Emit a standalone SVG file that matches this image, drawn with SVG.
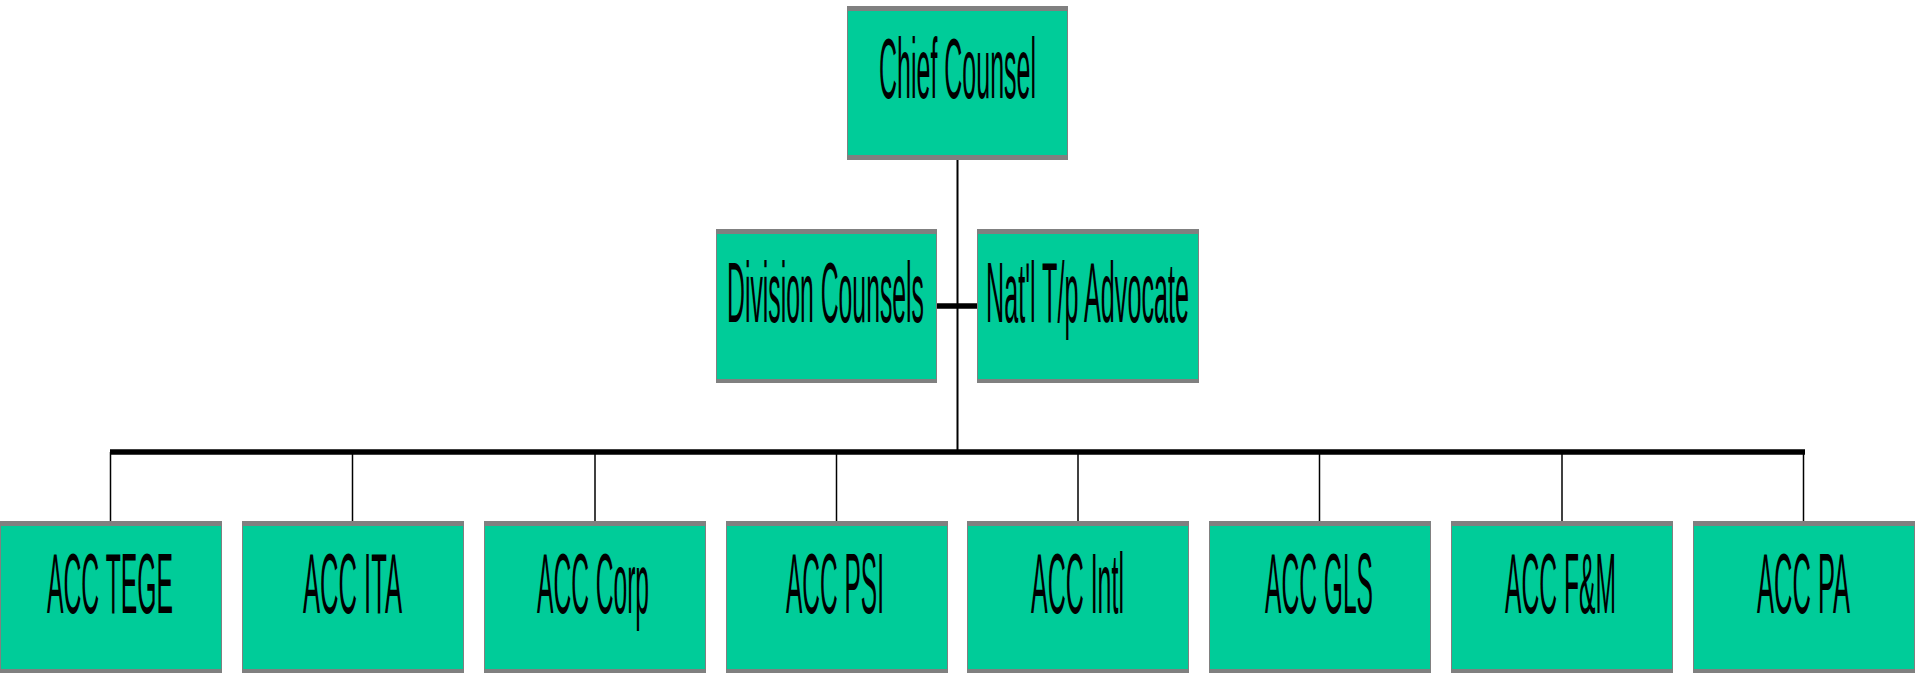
<svg xmlns="http://www.w3.org/2000/svg" width="1915" height="673" viewBox="0 0 1915 673">
<style>
.frame{fill:#808080}
.body{fill:#00CC99}
.lbl{font-family:"Liberation Sans",Arial,sans-serif;font-size:86px;fill:#000;text-anchor:middle}
.thin{stroke:#000;stroke-width:1.5;fill:none}
.mid{stroke:#000;stroke-width:2;fill:none}
.thick{stroke:#000;stroke-width:5.5;fill:none}
</style>
<rect width="1915" height="673" fill="#fff"/>
<g id="connectors">
<line class="mid" x1="957.5" y1="160" x2="957.5" y2="452"/>
<line class="thick" x1="937" y1="306" x2="977" y2="306"/>
<line class="thick" x1="110" y1="452" x2="1805" y2="452"/>
<line class="thin" x1="110.5" y1="452" x2="110.5" y2="521"/>
<line class="thin" x1="352.5" y1="452" x2="352.5" y2="521"/>
<line class="thin" x1="595" y1="452" x2="595" y2="521"/>
<line class="thin" x1="836.5" y1="452" x2="836.5" y2="521"/>
<line class="thin" x1="1078" y1="452" x2="1078" y2="521"/>
<line class="thin" x1="1319.5" y1="452" x2="1319.5" y2="521"/>
<line class="thin" x1="1562" y1="452" x2="1562" y2="521"/>
<line class="thin" x1="1803.5" y1="452" x2="1803.5" y2="521"/>
</g>
<g id="chief">
<rect class="frame" x="847" y="6" width="221" height="154"/>
<rect class="body" x="848" y="11" width="219" height="144"/>
<text class="lbl" transform="translate(957.5 98) scale(0.3 1)" x="0" y="0" textLength="523.3" lengthAdjust="spacingAndGlyphs">Chief Counsel</text>
</g>
<g id="division">
<rect class="frame" x="716" y="229" width="221" height="154"/>
<rect class="body" x="717" y="234" width="219" height="145"/>
<text class="lbl" transform="translate(825.5 322) scale(0.3 1)" x="0" y="0" textLength="656.7" lengthAdjust="spacingAndGlyphs">Division Counsels</text>
</g>
<g id="advocate">
<rect class="frame" x="977" y="229" width="222" height="154"/>
<rect class="body" x="978" y="234" width="220" height="145"/>
<text class="lbl" transform="translate(1087.5 322) scale(0.3 1)" x="0" y="0" textLength="676.7" lengthAdjust="spacingAndGlyphs">Nat'l T/p Advocate</text>
</g>
<g id="tege">
<rect class="frame" x="0" y="521" width="222" height="152"/>
<rect class="body" x="1" y="526" width="220" height="143"/>
<text class="lbl" transform="translate(110 613) scale(0.3 1)" x="0" y="0" textLength="420" lengthAdjust="spacingAndGlyphs">ACC TEGE</text>
</g>
<g id="ita">
<rect class="frame" x="242" y="521" width="222" height="152"/>
<rect class="body" x="243" y="526" width="220" height="143"/>
<text class="lbl" transform="translate(352.5 613) scale(0.3 1)" x="0" y="0" textLength="330" lengthAdjust="spacingAndGlyphs">ACC ITA</text>
</g>
<g id="corp">
<rect class="frame" x="484" y="521" width="222" height="152"/>
<rect class="body" x="485" y="526" width="220" height="143"/>
<text class="lbl" transform="translate(593 613) scale(0.3 1)" x="0" y="0" textLength="373.3" lengthAdjust="spacingAndGlyphs">ACC Corp</text>
</g>
<g id="psi">
<rect class="frame" x="726" y="521" width="222" height="152"/>
<rect class="body" x="727" y="526" width="220" height="143"/>
<text class="lbl" transform="translate(835 613) scale(0.3 1)" x="0" y="0" textLength="326.7" lengthAdjust="spacingAndGlyphs">ACC PSI</text>
</g>
<g id="intl">
<rect class="frame" x="967" y="521" width="222" height="152"/>
<rect class="body" x="968" y="526" width="220" height="143"/>
<text class="lbl" transform="translate(1077.5 613) scale(0.3 1)" x="0" y="0" textLength="310" lengthAdjust="spacingAndGlyphs">ACC Intl</text>
</g>
<g id="gls">
<rect class="frame" x="1209" y="521" width="222" height="152"/>
<rect class="body" x="1210" y="526" width="220" height="143"/>
<text class="lbl" transform="translate(1319 613) scale(0.3 1)" x="0" y="0" textLength="360" lengthAdjust="spacingAndGlyphs">ACC GLS</text>
</g>
<g id="fm">
<rect class="frame" x="1451" y="521" width="222" height="152"/>
<rect class="body" x="1452" y="526" width="220" height="143"/>
<text class="lbl" transform="translate(1560.5 613) scale(0.3 1)" x="0" y="0" textLength="370" lengthAdjust="spacingAndGlyphs">ACC F&amp;M</text>
</g>
<g id="pa">
<rect class="frame" x="1693" y="521" width="222" height="152"/>
<rect class="body" x="1694" y="526" width="220" height="143"/>
<text class="lbl" transform="translate(1803.5 613) scale(0.3 1)" x="0" y="0" textLength="310" lengthAdjust="spacingAndGlyphs">ACC PA</text>
</g>
</svg>
